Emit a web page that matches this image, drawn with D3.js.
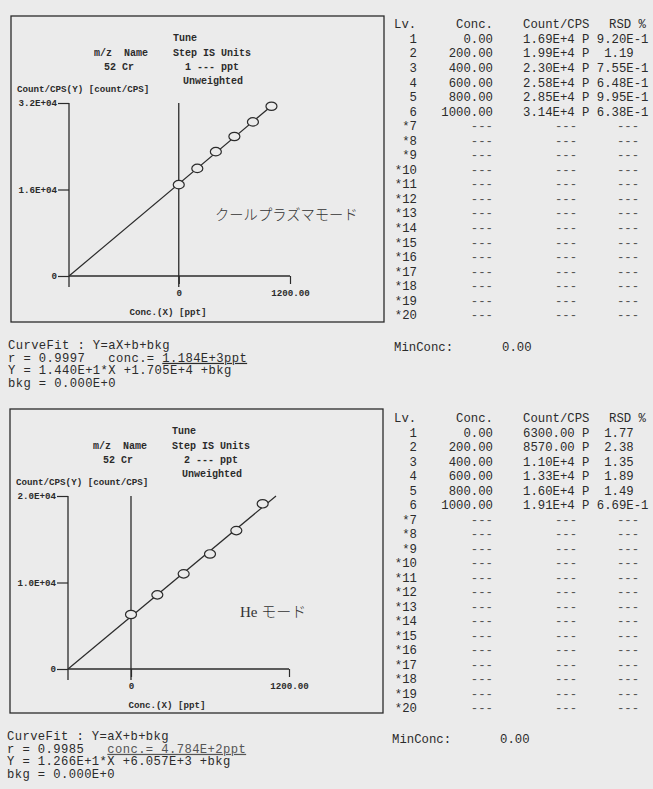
<!DOCTYPE html>
<html>
<head>
<meta charset="utf-8">
<script src="https://cdn.jsdelivr.net/npm/d3@7"></script>
<style>
  body { margin: 0; background: #ebebeb; }
  svg { display: block; }
  text { white-space: pre; }
</style>
</head>
<body>
<script>
const W = 653, H = 789;

// data
const concLevels = [0, 200, 400, 600, 800, 1000];
const coolCounts = [16900, 19900, 23000, 25800, 28500, 31400];
const heCounts = [6300, 8570, 11000, 13300, 16000, 19100];
const coolCountLabels = ["1.69E+4", "1.99E+4", "2.30E+4", "2.58E+4", "2.85E+4", "3.14E+4"];
const heCountLabels = ["6300.00", "8570.00", "1.10E+4", "1.33E+4", "1.60E+4", "1.91E+4"];
const coolRsd = ["9.20E-1", " 1.19", "7.55E-1", "6.48E-1", "9.95E-1", "6.38E-1"];
const heRsd = [" 1.77", " 2.38", " 1.35", " 1.89", " 1.49", "6.69E-1"];
const coolFit = [14.40, 17050]; // a, b
const heFit = [12.66, 6057];
const coolR = 0.9997, heR = 0.9985;
const coolYTicks = [0, 16000, 32000];
const coolYLabels = ["0", "1.6E+04", "3.2E+04"];
const heYTicks = [0, 10000, 20000];
const heYLabels = ["0", "1.0E+04", "2.0E+04"];
const xTicks = [0, 1200];
const xTickLabels = ["0", "1200.00"];
const levelCount = 20;

const svg = d3.select("body").append("svg").attr("width", W).attr("height", H);
svg.append("rect").attr("width", W).attr("height", H).attr("fill", "#ebebeb");

const ink = "#2b2b2b";
const mono = "'Liberation Mono', 'DejaVu Sans Mono', monospace";

function txt(g, x, y, s, size, opts = {}) {
  return g.append("text")
    .attr("x", x).attr("y", y).attr("dy", "0.35em")
    .attr("font-family", opts.family || mono)
    .attr("font-size", size)
    .attr("font-weight", opts.weight || "normal")
    .attr("text-anchor", opts.anchor || "start")
    .attr("letter-spacing", opts.ls || 0)
    .attr("fill", opts.fill || ink)
    .text(s);
}

function drawPanel(cfg) {
  const g = svg.append("g").attr("transform", `translate(${cfg.left},${cfg.top})`);
  g.append("rect").attr("width", 373).attr("height", cfg.boxH)
    .attr("fill", "none").attr("stroke", ink).attr("stroke-width", 1.3);

  const hs = 10, b = "bold";
  txt(g, 162, 21, "Tune", hs, {weight: b});
  txt(g, 83, 36, "m/z  Name", hs, {weight: b});
  txt(g, 162, 36, "Step IS Units", hs, {weight: b});
  txt(g, 93, 50, "52 Cr", hs, {weight: b});
  txt(g, 174, 50, cfg.step + " --- ppt", hs, {weight: b});
  txt(g, 172, 64, "Unweighted", hs, {weight: b});
  txt(g, 6, 73, "Count/CPS(Y) [count/CPS]", 9.2, {weight: b});

  const a = cfg.fit[0], bb = cfg.fit[1];
  const xIntercept = -bb / a;
  const yMax = cfg.yTicks[cfg.yTicks.length - 1];
  const x = d3.scaleLinear().domain([xIntercept, xTicks[1]]).range([58, 279]);
  const y = d3.scaleLinear().domain([0, yMax]).range([260, 87]);

  const yAxis = d3.axisLeft(y).tickValues(cfg.yTicks)
    .tickFormat((d, i) => cfg.yLabels[i]).tickSize(11).tickPadding(1);
  const ya = g.append("g").attr("transform", `translate(${x(xIntercept)},0)`).call(yAxis);
  ya.select(".domain").remove();
  ya.selectAll("text").attr("font-family", mono).attr("font-size", 9.2)
    .attr("font-weight", "bold").attr("fill", ink);
  ya.selectAll("line").attr("stroke", ink).attr("stroke-width", 1.2);

  // axis lines
  [xIntercept, 0].forEach(v => {
    g.append("line").attr("x1", x(v)).attr("x2", x(v))
      .attr("y1", y(yMax)).attr("y2", y(0) + 11)
      .attr("stroke", ink).attr("stroke-width", 1.3);
  });
  g.append("line").attr("x1", x(xIntercept)).attr("x2", x(xTicks[1]))
    .attr("y1", y(0)).attr("y2", y(0)).attr("stroke", ink).attr("stroke-width", 1.3);

  const xAxis = d3.axisBottom(x).tickValues(xTicks)
    .tickFormat((d, i) => xTickLabels[i]).tickSize(8).tickPadding(5);
  const xa = g.append("g").attr("transform", `translate(0,${y(0)})`).call(xAxis);
  xa.select(".domain").remove();
  xa.selectAll("text").attr("font-family", mono).attr("font-size", 9.2)
    .attr("font-weight", "bold").attr("fill", ink);
  xa.selectAll("line").attr("stroke", ink).attr("stroke-width", 1.2);

  txt(g, 157, 296, "Conc.(X) [ppt]", 9.2, {weight: b, anchor: "middle"});

  // fit line up to the top of the y range
  const xEnd = Math.min(xTicks[1], (yMax - bb) / a);
  g.append("line")
    .attr("x1", x(xIntercept)).attr("y1", y(0))
    .attr("x2", x(xEnd)).attr("y2", y(a * xEnd + bb))
    .attr("stroke", ink).attr("stroke-width", 1.2);

  g.selectAll("ellipse.pt").data(cfg.counts).join("ellipse")
    .attr("class", "pt")
    .attr("cx", (d, i) => x(concLevels[i]))
    .attr("cy", d => y(d))
    .attr("rx", 5.5).attr("ry", 4.2)
    .attr("fill", "#ebebeb").attr("stroke", ink).attr("stroke-width", 1.2);

  // mode label
  const ml = g.append("text").attr("x", cfg.modeX).attr("y", cfg.modeY).attr("dy", "0.35em")
    .attr("fill", "#333").attr("font-size", cfg.modeSize);
  cfg.mode.forEach(p => {
    ml.append("tspan").attr("font-family", p.family).attr("font-weight", p.weight || 300).text(p.s);
  });

  // curve fit text below the box
  const cy0 = cfg.boxH + 23, ls = 12.6, fs = 12.2, sp = 0.4;
  const f = v => v.toExponential(3).replace("e", "E");
  const conc = bb / a;
  txt(g, -3, cy0, "CurveFit : Y=aX+b+bkg", fs, {ls: sp});
  const rt = txt(g, -3, cy0 + ls, `r = ${cfg.r.toFixed(4)}   `, fs, {ls: sp});
  if (cfg.underlineAll) {
    rt.append("tspan").attr("text-decoration", "underline").attr("fill", "#555")
      .text(`conc.= ${f(conc)}ppt`);
  } else {
    rt.append("tspan").text("conc.= ");
    rt.append("tspan").attr("text-decoration", "underline").text(`${f(conc)}ppt`);
  }
  txt(g, -3, cy0 + 2 * ls, `Y = ${f(a)}*X +${f(bb)} +bkg`, fs, {ls: sp});
  txt(g, -3, cy0 + 3 * ls, "bkg = 0.000E+0", fs, {ls: sp});
}

function drawTable(cfg) {
  const g = svg.append("g");
  const fs = 12.3, cw = 7.38, y0 = cfg.top, dy = cfg.step;
  txt(g, 394, y0, "Lv.", fs);
  txt(g, 493, y0, "Conc.", fs, {anchor: "end"});
  txt(g, 523, y0, "Count/CPS", fs);
  txt(g, 609, y0, "RSD %", fs);
  const rows = d3.range(1, levelCount + 1);
  rows.forEach(lv => {
    const yy = y0 + lv * dy;
    const i = lv - 1;
    const has = i < concLevels.length;
    txt(g, 417, yy, (has ? "" : "*") + lv, fs, {anchor: "end"});
    if (has) {
      txt(g, 493, yy, concLevels[i].toFixed(2), fs, {anchor: "end"});
      txt(g, 523, yy, cfg.countLabels[i], fs);
      txt(g, 523 + 8 * cw, yy, "P", fs);
      txt(g, 523 + 10 * cw, yy, cfg.rsd[i], fs);
    } else {
      txt(g, 493, yy, "---", fs, {anchor: "end", fill: "#555"});
      txt(g, 566, yy, "---", fs, {anchor: "middle", fill: "#555"});
      txt(g, 628, yy, "---", fs, {anchor: "middle", fill: "#555"});
    }
  });
  txt(g, cfg.minX, cfg.minY, "MinConc:", fs);
  txt(g, cfg.minX + 108, cfg.minY, "0.00", fs);
}

drawPanel({
  left: 11, top: 16, boxH: 306, step: 1,
  counts: coolCounts, fit: coolFit, r: coolR,
  yTicks: coolYTicks, yLabels: coolYLabels,
  mode: [{s: "クールプラズマモード", family: "'Noto Sans CJK JP'"}],
  modeX: 204, modeY: 199, modeSize: 14.3, underlineAll: false
});
drawPanel({
  left: 10, top: 409, boxH: 304, step: 2,
  counts: heCounts, fit: heFit, r: heR,
  yTicks: heYTicks, yLabels: heYLabels,
  mode: [{s: "He ", family: "'Liberation Serif'", weight: 400},
         {s: "モード", family: "'Noto Sans CJK JP'"}],
  modeX: 230, modeY: 203, modeSize: 15, underlineAll: true
});

drawTable({top: 24, step: 14.55, countLabels: coolCountLabels, rsd: coolRsd, minX: 394, minY: 347});
drawTable({top: 418, step: 14.5, countLabels: heCountLabels, rsd: heRsd, minX: 392, minY: 739});
</script>
</body>
</html>
